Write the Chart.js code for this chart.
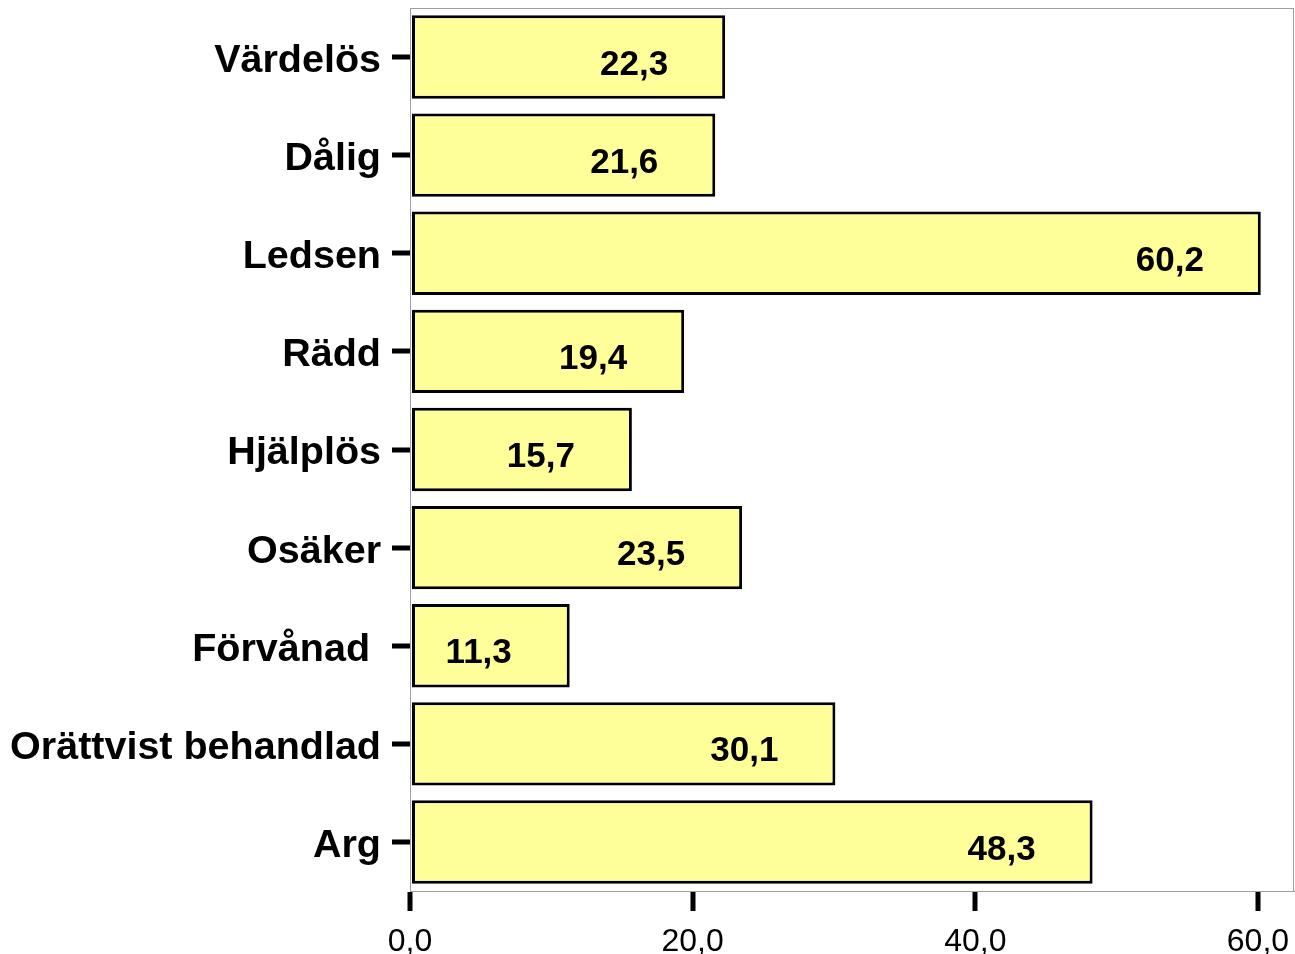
<!DOCTYPE html>
<html>
<head>
<meta charset="utf-8">
<script src="https://cdn.jsdelivr.net/npm/chart.js@4"></script>
<style>
html,body{margin:0;padding:0;background:#fff;}
#wrap{width:1295px;height:954px;}
</style>
</head>
<body>
<div id="wrap"><canvas id="c" width="1295" height="954"></canvas></div>
<script>
const categories = ['Värdelös', 'Dålig', 'Ledsen', 'Rädd', 'Hjälplös', 'Osäker', 'Förvånad ', 'Orättvist behandlad', 'Arg'];
const values = [22.3, 21.6, 60.2, 19.4, 15.7, 23.5, 11.3, 30.1, 48.3];
const xTicks = [0, 20, 40, 60];

const fmt = v => v.toFixed(1).replace('.', ',');
const FONT = "'Liberation Sans', Arial, sans-serif";

const frame = {
  id: 'frame',
  beforeDatasetsDraw(chart) {
    const {ctx, chartArea: a} = chart;
    ctx.save();
    ctx.strokeStyle = '#a0a0a0';
    ctx.lineWidth = 1;
    ctx.strokeRect(a.left + 0.5, a.top + 0.5, a.right - a.left - 1, a.bottom - a.top);
    ctx.restore();
  },
  afterDraw(chart) {
    const {ctx, chartArea: a, scales} = chart;
    ctx.save();
    ctx.fillStyle = '#000';
    scales.y.ticks.forEach((t, i) => {
      const y = scales.y.getPixelForTick(i);
      ctx.fillRect(a.left - 18, Math.round(y) - 2.5, 18, 5);
    });
    scales.x.ticks.forEach((t, i) => {
      const x = scales.x.getPixelForTick(i);
      ctx.fillRect(Math.round(x) - 2.5, a.bottom + 1, 5, 19);
    });
    ctx.restore();
  }
};

const labels = {
  id: 'valueLabels',
  afterDatasetsDraw(chart) {
    const {ctx} = chart;
    const meta = chart.getDatasetMeta(0);
    ctx.save();
    ctx.font = "bold 35px " + FONT;
    ctx.fillStyle = '#000';
    ctx.textAlign = 'center';
    ctx.textBaseline = 'middle';
    meta.data.forEach((el, i) => {
      ctx.fillText(fmt(values[i]), el.x - 91, el.y + 8);
    });
    ctx.restore();
  }
};

new Chart(document.getElementById('c'), {
  type: 'bar',
  data: {
    labels: categories,
    datasets: [{
      data: values,
      backgroundColor: '#FFFF99',
      borderColor: '#000',
      borderWidth: 3,
      borderSkipped: false,
      categoryPercentage: 1,
      barPercentage: 0.85
    }]
  },
  options: {
    indexAxis: 'y',
    responsive: false,
    animation: false,
    layout: {padding: {top: 8, right: 1, left: 0, bottom: 0}},
    plugins: {legend: {display: false}, tooltip: {enabled: false}},
    scales: {
      x: {
        min: 0,
        max: 62.55,
        afterFit(s) { s.height = 63; s.paddingLeft = 0; s.paddingRight = 0; },
        afterBuildTicks(s) { s.ticks = xTicks.map(v => ({value: v})); },
        ticks: {
          includeBounds: false,
          color: '#000',
          font: {family: FONT, size: 32},
          padding: 13,
          maxRotation: 0,
          callback: v => fmt(v)
        },
        grid: {drawOnChartArea: false, tickLength: 19, lineWidth: 4, tickWidth: 4, tickColor: '#000', color: '#000'},
        border: {color: '#a0a0a0', width: 1}
      },
      y: {
        offset: true,
        afterFit(s) { s.width = 410; s.paddingTop = 0; s.paddingBottom = 0; },
        ticks: {
          color: '#000',
          font: {family: FONT, size: 39.5, weight: 'bold'},
          padding: 11,
          labelOffset: 4,
          crossAlign: 'near'
        },
        grid: {offset: false, drawOnChartArea: false, tickLength: 18, lineWidth: 4, tickWidth: 4, tickColor: '#000', color: '#000'},
        border: {color: '#a0a0a0', width: 1}
      }
    }
  },
  plugins: [frame, labels]
});
</script>
</body>
</html>
